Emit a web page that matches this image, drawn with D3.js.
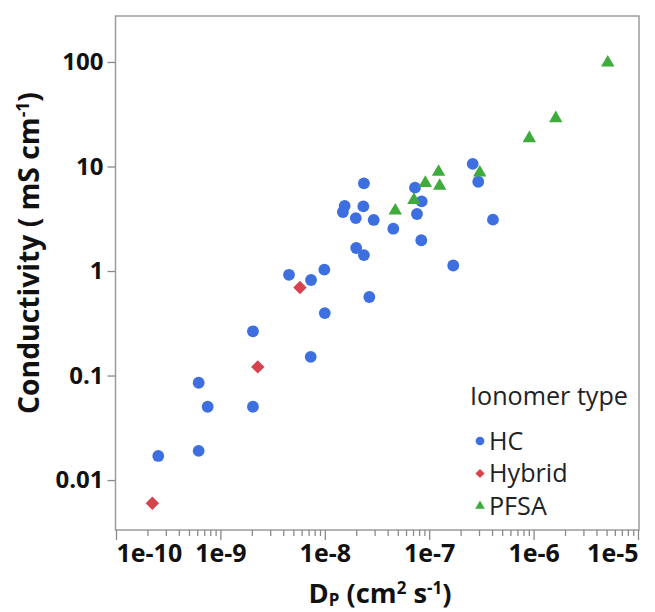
<!DOCTYPE html>
<html>
<head>
<meta charset="utf-8">
<script src="https://cdn.jsdelivr.net/npm/d3@7"></script>
<style>
  body { margin: 0; background: #fff; }
  svg text { font-family: "Open Sans", "Noto Sans", sans-serif; }
</style>
</head>
<body>
<svg id="chart" width="655" height="612"></svg>
<script>
const width = 655;
const height = 612;

// data
const hcDp = [2.37e-8, 1.55e-8, 1.49e-8, 2.34e-8, 1.98e-8, 2.94e-8, 4.53e-8, 7.31e-8, 8.47e-8, 7.64e-8,
  8.4e-8, 2.61e-7, 2.95e-7, 4.08e-7, 2.0e-8, 2.37e-8, 1.7e-7, 4.54e-9, 7.38e-9, 9.9e-9,
  2.67e-8, 1.0e-8, 2.05e-9, 7.33e-9, 6.19e-10, 7.55e-10, 2.05e-9, 2.54e-10, 6.19e-10];
const hcCond = [6.9, 4.2, 3.67, 4.16, 3.21, 3.08, 2.54, 6.27, 4.64, 3.51,
  1.97, 10.6, 7.15, 3.1, 1.66, 1.42, 1.13, 0.92, 0.82, 1.03,
  0.564, 0.396, 0.265, 0.151, 0.0853, 0.0503, 0.0503, 0.017, 0.019];
const hybridDp = [5.78e-9, 2.28e-9, 2.23e-10];
const hybridCond = [0.695, 0.121, 0.006];
const pfsaDp = [4.73e-8, 7.14e-8, 9.18e-8, 1.23e-7, 1.26e-7, 3.05e-7, 9.1e-7, 1.63e-6, 5.13e-6];
const pfsaCond = [3.78, 4.78, 6.95, 8.86, 6.51, 8.73, 18.6, 28.9, 98.5];

const xTicks = [1e-10, 1e-9, 1e-8, 1e-7, 1e-6, 1e-5];
const xTickLabels = ["1e-10", "1e-9", "1e-8", "1e-7", "1e-6", "1e-5"];
const yTicks = [0.01, 0.1, 1, 10, 100];
const yTickLabels = ["0.01", "0.1", "1", "10", "100"];
const groups = ["HC", "Hybrid", "PFSA"];
const colors = ["#3d6fe0", "#d6434f", "#3fab3c"];

const svg = d3.select("#chart");
const plotLeft = 116, plotRight = 638, plotTop = 16, plotBottom = 530;

const x = d3.scaleLog().domain([1e-10, 1e-5]).range([plotLeft, plotRight]);
const y = d3.scaleLog().domain([Math.pow(10, -2.478), Math.pow(10, 2.44)]).range([plotBottom, plotTop]);

// scale a text's font size so it spans the given width
function fitWidth(t, target) {
  const w = t.node().getBBox().width;
  const fs = parseFloat(t.style("font-size"));
  t.style("font-size", (fs * target / w).toFixed(2) + "px");
}

// frame
svg.append("rect")
  .attr("x", plotLeft - 0.5).attr("y", plotTop)
  .attr("width", plotRight - plotLeft + 1.5).attr("height", plotBottom - plotTop)
  .attr("fill", "none").attr("stroke", "#9c9c9c").attr("stroke-width", 1.5);

// minor x ticks
const minor = [];
for (let e = -10; e < -5; e++) for (let m = 2; m <= 9; m++) minor.push(m * Math.pow(10, e));

const gxMinor = svg.append("g")
  .attr("transform", `translate(0,${plotBottom})`)
  .call(d3.axisBottom(x).tickValues(minor).tickSize(6).tickFormat(""));
gxMinor.select(".domain").remove();

const gx = svg.append("g")
  .attr("transform", `translate(0,${plotBottom})`)
  .call(d3.axisBottom(x).tickValues(xTicks).tickSize(10).tickPadding(4)
    .tickFormat((d, i) => xTickLabels[i]));
gx.select(".domain").remove();

[gx, gxMinor].forEach(g => g.selectAll("line").attr("stroke", "#8a8a8a").attr("stroke-width", 1.3));
gx.selectAll("text")
  .attr("fill", "#111").style("font-size", "25px").style("font-weight", "bold")
  .attr("text-anchor", (d, i) => i === 0 ? "start" : (i === xTicks.length - 1 ? "end" : "middle"));

const gy = svg.append("g")
  .attr("transform", `translate(${plotLeft - 0.5},0)`)
  .call(d3.axisLeft(y).tickValues(yTicks).tickSize(8).tickPadding(4)
    .tickFormat((d, i) => yTickLabels[i]));
gy.select(".domain").remove();
gy.selectAll("line").attr("stroke", "#8a8a8a").attr("stroke-width", 1.3);
gy.selectAll("text").attr("fill", "#111").style("font-size", "24px").style("font-weight", "bold");

// points
const sym = [d3.symbolCircle, d3.symbolSquare, d3.symbolTriangle];
const sizes = [110, 90, 78];
const rot = [0, 45, 0];
const series = [[hcDp, hcCond], [hybridDp, hybridCond], [pfsaDp, pfsaCond]];

series.forEach(([xs, ys], k) => {
  svg.append("g")
    .selectAll("path")
    .data(xs.map((d, i) => [d, ys[i]]))
    .enter()
    .append("path")
    .attr("d", d3.symbol().type(sym[k]).size(sizes[k]))
    .attr("transform", d => `translate(${x(d[0])},${y(d[1])}) rotate(${rot[k]})`)
    .attr("fill", colors[k]);
});

// axis titles
const xt = svg.append("text")
  .attr("x", 380).attr("y", 603)
  .attr("text-anchor", "middle")
  .style("font-size", "22px").style("font-weight", "bold").attr("fill", "#111");
xt.append("tspan").text("D");
xt.append("tspan").text("P").style("font-size", "0.62em").attr("baseline-shift", "-18%");
xt.append("tspan").text(" (cm");
xt.append("tspan").text("2").style("font-size", "0.62em").attr("baseline-shift", "55%");
xt.append("tspan").text(" s");
xt.append("tspan").text("-1").style("font-size", "0.62em").attr("baseline-shift", "55%");
xt.append("tspan").text(")");
fitWidth(xt, 143);

const yt = svg.append("text")
  .attr("transform", "translate(39,253) rotate(-90)")
  .attr("text-anchor", "middle")
  .style("font-size", "24px").style("font-weight", "bold").attr("fill", "#111");
yt.append("tspan").text("Conductivity ( mS cm");
yt.append("tspan").text("-1").style("font-size", "0.62em").attr("baseline-shift", "55%");
yt.append("tspan").text(")");
fitWidth(yt, 322);

// legend
const legend = svg.append("g");
const lt = legend.append("text")
  .attr("x", 470).attr("y", 405)
  .style("font-size", "24px").attr("fill", "#222")
  .text("Ionomer type");
fitWidth(lt, 158);
const legendFont = lt.style("font-size");

const legendSizes = [60, 42, 40];
groups.forEach((g, i) => {
  const cy = 441 + i * 32.5;
  legend.append("path")
    .attr("d", d3.symbol().type(sym[i]).size(legendSizes[i]))
    .attr("transform", `translate(480,${cy}) rotate(${rot[i]})`)
    .attr("fill", colors[i]);
  legend.append("text")
    .attr("x", 489).attr("y", cy + 8.5)
    .style("font-size", legendFont).attr("fill", "#222")
    .text(g);
});
</script>
</body>
</html>
